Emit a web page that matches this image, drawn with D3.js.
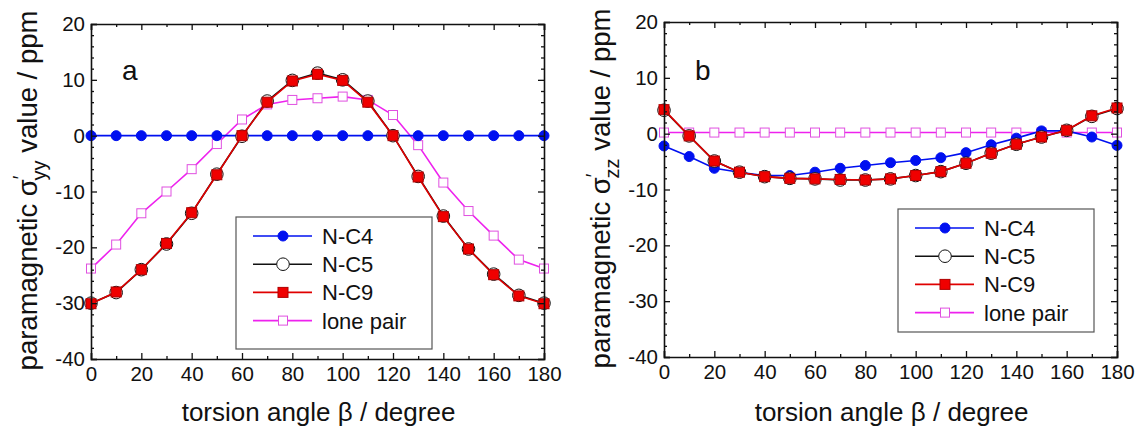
<!DOCTYPE html>
<html>
<head>
<meta charset="utf-8">
<script src="https://cdn.jsdelivr.net/npm/d3@7"></script>
<style>
  body { margin: 0; background: #fff; }
  svg { display: block; font-family: "Liberation Sans", Arial, sans-serif; }
</style>
</head>
<body>
<div id="chart"></div>
<script>
// torsion angles (degree)
var angles = [0, 10, 20, 30, 40, 50, 60, 70, 80, 90, 100, 110, 120, 130, 140, 150, 160, 170, 180];

// panel a : sigma'yy
var aNC4 = [0, 0, 0, 0, 0, 0, 0, 0, 0, 0, 0, 0, 0, 0, 0, 0, 0, 0, 0];
var aNC5 = [-30, -28.1, -24, -19.4, -13.9, -6.9, -0.1, 6.2, 9.9, 11.2, 10, 6.2, 0, -7.3, -14.4, -20.3, -24.8, -28.6, -30];
var aNC9 = [-30.1, -28, -24, -19.3, -13.8, -7, 0, 6, 9.8, 11, 9.9, 6, 0, -7.4, -14.5, -20.3, -24.9, -28.7, -30.1];
var aLP = [-23.8, -19.5, -13.9, -10, -6, -1.5, 2.9, 5.6, 6.4, 6.7, 7, 6.4, 3.7, -1.7, -8.4, -13.5, -17.9, -22.2, -23.8];

// panel b : sigma'zz
var bNC4 = [-2.2, -4.1, -6.2, -6.9, -7.5, -7.5, -6.9, -6.2, -5.7, -5.2, -4.8, -4.3, -3.4, -2, -0.8, 0.5, 0.5, -0.6, -2.1];
var bNC5 = [4.2, -0.4, -4.9, -6.9, -7.7, -8, -8.1, -8.3, -8.3, -8.1, -7.5, -6.8, -5.3, -3.5, -1.9, -0.6, 0.6, 3.1, 4.5];
var bNC9 = [4.3, -0.4, -4.9, -6.9, -7.7, -8, -8.1, -8.2, -8.3, -8.1, -7.5, -6.8, -5.3, -3.5, -1.9, -0.6, 0.6, 3.2, 4.6];
var bLP = [0.2, 0.2, 0.2, 0.2, 0.2, 0.2, 0.2, 0.2, 0.2, 0.2, 0.2, 0.2, 0.2, 0.2, 0.2, 0.2, 0.2, 0.2, 0.2];

var seriesNames = ["N-C4", "N-C5", "N-C9", "lone pair"];
var xTicks = [0, 20, 40, 60, 80, 100, 120, 140, 160, 180];
var yTicks = [-40, -30, -20, -10, 0, 10, 20];

var styles = {
    "N-C4": {line: "#0010f0", shape: "circle", size: 5, fill: "#0010f0", stroke: "#0010f0"},
    "N-C5": {line: "#111", shape: "circle", size: 6.3, fill: "#fff", stroke: "#111"},
    "N-C9": {line: "#e00000", shape: "square", size: 10, fill: "#f00000", stroke: "#b00000"},
    "lone pair": {line: "#ee22ee", shape: "square", size: 9, fill: "#fff", stroke: "#e050e0"}
}

var svg = d3.select('#chart')
    .append('svg')
    .attr('width', 1139)
    .attr('height', 428)

function marker(g, name, cx, cy) {
    var st = styles[name]
    if (st.shape == "circle") {
        g.append('circle')
            .attr('cx', cx).attr('cy', cy).attr('r', st.size)
            .attr('fill', st.fill).attr('stroke', st.stroke).attr('stroke-width', 1)
    } else {
        g.append('rect')
            .attr('x', cx - st.size / 2).attr('y', cy - st.size / 2)
            .attr('width', st.size).attr('height', st.size)
            .attr('fill', st.fill).attr('stroke', st.stroke).attr('stroke-width', 1)
    }
}

function plain(d) { return String(d) }

function drawPanel(p) {
    var x = d3.scaleLinear().domain([0, 180]).range([p.left, p.right])
    var y = d3.scaleLinear().domain([-40, 20]).range([p.bottom, p.top])
    var g = svg.append('g')

    // data, lone pair drawn first so the others sit on top
    var order = [3, 0, 1, 2]
    order.forEach(function(i) {
        var name = seriesNames[i]
        var vals = p.data[i]
        var pts = angles.map(function(a, j) { return [x(a), y(vals[j])] })
        g.append('path')
            .attr('d', d3.line()(pts))
            .attr('fill', 'none')
            .attr('stroke', styles[name].line)
            .attr('stroke-width', 1.6)
        var mg = g.append('g')
        pts.forEach(function(pt) { marker(mg, name, pt[0], pt[1]) })
    })

    // axes (ticks point inward)
    var axes = [
        d3.axisBottom(x).tickValues(xTicks).tickSize(-6).tickPadding(7).tickFormat(plain),
        d3.axisTop(x).tickValues(xTicks).tickSize(-6).tickFormat(""),
        d3.axisLeft(y).tickValues(yTicks).tickSize(-6).tickPadding(6).tickFormat(plain),
        d3.axisRight(y).tickValues(yTicks).tickSize(-6).tickFormat("")
    ]
    var minorX = [10, 30, 50, 70, 90, 110, 130, 150, 170]
    var minorY = d3.range(-38, 20, 2).filter(function(v) { return v % 10 != 0 })
    var minors = [
        d3.axisBottom(x).tickValues(minorX).tickSize(-3).tickFormat(""),
        d3.axisTop(x).tickValues(minorX).tickSize(-3).tickFormat(""),
        d3.axisLeft(y).tickValues(minorY).tickSize(-3).tickFormat(""),
        d3.axisRight(y).tickValues(minorY).tickSize(-3).tickFormat("")
    ]
    var shifts = ['translate(0,' + p.bottom + ')', 'translate(0,' + p.top + ')',
                  'translate(' + p.left + ',0)', 'translate(' + p.right + ',0)']
    axes.forEach(function(ax, i) {
        var a = g.append('g').attr('transform', shifts[i]).call(ax)
        a.select('.domain').attr('stroke', '#111').attr('stroke-width', 1.6)
        a.selectAll('.tick line').attr('stroke', '#111').attr('stroke-width', 1.3)
        a.selectAll('text').attr('font-size', 20.5).attr('fill', '#111')
            .attr('font-family', '"Liberation Sans", Arial, sans-serif')
        var m = g.append('g').attr('transform', shifts[i]).call(minors[i])
        m.select('.domain').remove()
        m.selectAll('.tick line').attr('stroke', '#111').attr('stroke-width', 1.3)
    })

    // panel letter
    g.append('text')
        .attr('x', p.left + p.letterDx).attr('y', 80)
        .attr('font-size', 28).attr('fill', '#111')
        .text(p.letter)

    // x title
    g.append('text')
        .attr('x', (p.left + p.right) / 2 + 1).attr('y', 421)
        .attr('text-anchor', 'middle').attr('font-size', 26).attr('fill', '#111')
        .text("torsion angle β / degree")

    // y title
    var yt = g.append('text')
        .attr('transform', 'translate(' + (p.left - 54) + ',' + ((p.top + p.bottom) / 2 - 1) + ') rotate(-90)')
        .attr('text-anchor', 'middle').attr('font-size', 27.5).attr('fill', '#111')
    yt.append('tspan').text("paramagnetic σ")
    yt.append('tspan').attr('dy', -10).attr('font-size', 20).text("′")
    yt.append('tspan').attr('dy', 19).attr('dx', -5).attr('font-size', 20).text(p.sub)
    yt.append('tspan').attr('dy', -9).text(" value / ppm")

    // legend
    var lg = g.append('g')
    lg.append('rect')
        .attr('x', p.legX).attr('y', p.legY).attr('width', 196).attr('height', p.legH)
        .attr('fill', '#fff').attr('stroke', '#555').attr('stroke-width', 1.2)
    seriesNames.forEach(function(name, i) {
        var yy = p.legY + 19 + i * 28.2
        lg.append('line')
            .attr('x1', p.legX + 17).attr('x2', p.legX + 76)
            .attr('y1', yy).attr('y2', yy)
            .attr('stroke', styles[name].line).attr('stroke-width', 1.6)
        marker(lg, name, p.legX + 47, yy)
        lg.append('text')
            .attr('x', p.legX + 86).attr('y', yy + 8)
            .attr('font-size', 22).attr('fill', '#111')
            .text(name)
    })
}

drawPanel({left: 91, right: 544, top: 24, bottom: 359, data: [aNC4, aNC5, aNC9, aLP],
    letter: "a", letterDx: 31, sub: "yy", legX: 236, legY: 217, legH: 132})
drawPanel({left: 664, right: 1117, top: 22, bottom: 357, data: [bNC4, bNC5, bNC9, bLP],
    letter: "b", letterDx: 31, sub: "zz", legX: 898, legY: 209, legH: 123})
</script>
</body>
</html>
